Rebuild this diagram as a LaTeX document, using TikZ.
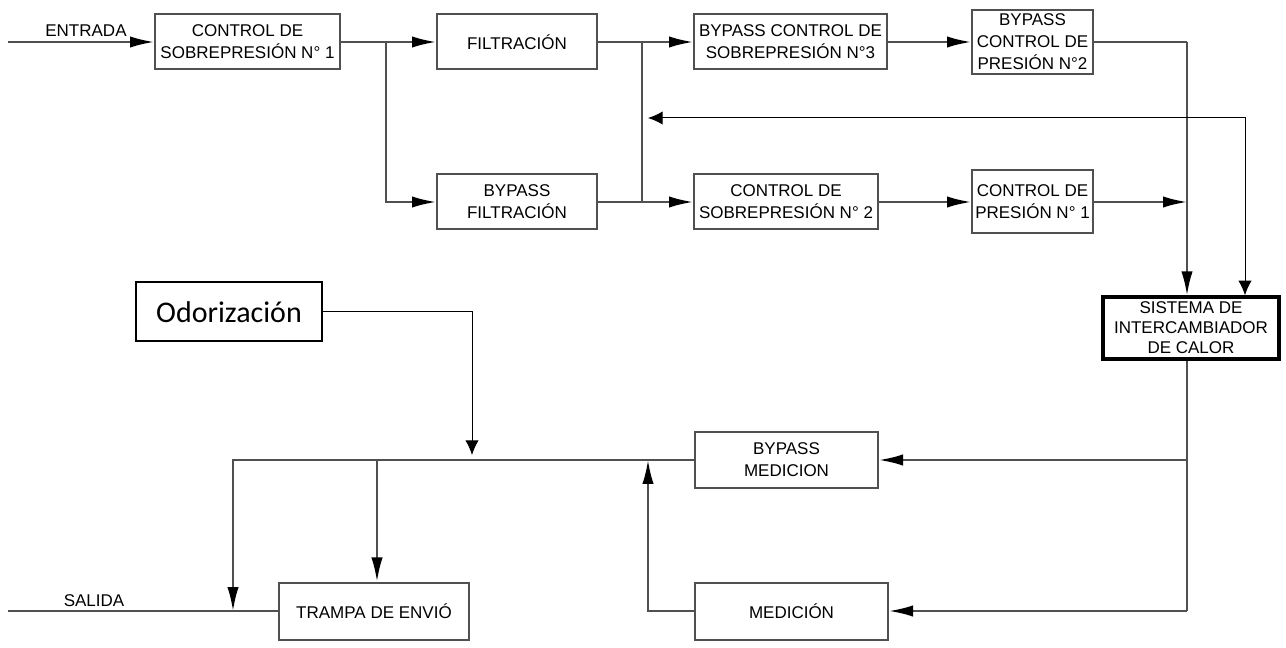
\documentclass[tikz,border=0pt]{standalone}
\usepackage{fontspec}
\setmainfont{Liberation Sans}
\newfontfamily\odorfont{Carlito}
\usetikzlibrary{arrows.meta}

\definecolor{pipegray}{RGB}{80,80,80}
\tikzset{every picture/.style={line width=0.75pt}}
\tikzset{
  block/.style={draw=pipegray, line width=1.5pt, fill=white, align=center, inner sep=0.75pt,
    font=\fontsize{12.75}{16.5}\selectfont},
  pipe/.style={draw=pipegray, line width=1.6pt},
  flow/.style={pipe, -{Latex[length=18pt,width=8.5pt,color=black]}},
  thinflow/.style={draw=black, line width=0.75pt, -{Latex[length=11pt,width=10pt]}},
  thinboth/.style={draw=black, line width=0.75pt, {Latex[length=11pt,width=10pt]}-{Latex[length=11pt,width=10pt]}},
  tag/.style={inner sep=0.75pt, font=\fontsize{12.75}{15}\selectfont}
}

\begin{document}
\begin{tikzpicture}[x=0.75pt,y=0.75pt,yscale=-1,xscale=1]
\useasboundingbox (0,0) rectangle (1286,648);

% Text Node
\node [block, minimum width=138.75pt, minimum height=41.25pt] (cs1) at (247.5,42) {CONTROL DE\\SOBREPRESIÓN N° 1};
% Text Node
\node [block, minimum width=120pt, minimum height=41.25pt] (filt) at (517,42) {FILTRACIÓN};
% Text Node
\node [block, minimum width=120pt, minimum height=41.25pt] (bpfilt) at (517,202) {BYPASS\\FILTRACIÓN};
% Text Node
\node [block, minimum width=144.75pt, minimum height=41.25pt] (bpcs3) at (790.5,42) {BYPASS CONTROL DE\\SOBREPRESIÓN N°3};
% Text Node
\node [block, minimum width=138pt, minimum height=41.25pt] (cs2) at (786,202) {CONTROL DE\\SOBREPRESIÓN N° 2};
% Text Node
\node [block, minimum width=90.75pt, minimum height=48pt] (bpcp2) at (1032.5,42) {BYPASS\\CONTROL DE\\PRESIÓN N°2};
% Text Node
\node [block, minimum width=90.75pt, minimum height=47.25pt] (cp1) at (1032.5,202) {CONTROL DE\\PRESIÓN N° 1};
% Text Node
\node [block, draw=black, line width=2.5pt, minimum width=132pt, minimum height=46.5pt,
  font=\fontsize{12.75}{15}\selectfont] (hx) at (1191,328) {SISTEMA DE\\INTERCAMBIADOR\\DE CALOR};
% Text Node
\node [block, minimum width=137.25pt, minimum height=42pt] (bpmed) at (786.5,460) {BYPASS\\MEDICION};
% Text Node
\node [block, minimum width=144.75pt, minimum height=42.75pt] (med) at (791.5,611) {MEDICIÓN};
% Text Node
\node [block, minimum width=142.5pt, minimum height=42.75pt] (trampa) at (374,611) {TRAMPA DE ENVIÓ};
% Text Node
\node [draw=black, line width=1.5pt, minimum width=139.5pt, minimum height=44.25pt, inner sep=0.75pt,
  font=\odorfont\fontsize{22.5}{26}\selectfont] (odor) at (229,312) {Odorización};

% Text Node
\node [tag] (entradaTxt) at (86,31) {ENTRADA};
% Text Node
\node [tag] (salidaTxt) at (94,601) {SALIDA};

\coordinate (entrada) at (8,42);
\coordinate (splitA) at (386,42);
\coordinate (joinB) at (642,42);
\coordinate (collect) at (1187,42);
\coordinate (retA) at (648,118);
\coordinate (retB) at (1245,118);
\coordinate (down) at (1187,611);
\coordinate (rise) at (648,611);
\coordinate (outA) at (233,460);
\coordinate (trapIn) at (377,460);
\coordinate (odorIn) at (472,455);
\coordinate (salida) at (8,611);

%Straight Lines
\draw [flow] (entrada) -- (cs1.west);
\draw [pipe] (cs1.east) -- (splitA);
\draw [flow] (splitA) -- (filt.west);
\draw [flow] (splitA) |- (bpfilt.west);
%Straight Lines
\draw [flow] (filt.east) -- (bpcs3.west);
\draw [flow] (bpfilt.east) -- (cs2.west);
\draw [pipe] (joinB) -- (joinB |- bpfilt.east);
%Straight Lines
\draw [flow] (bpcs3.east) -- (bpcp2.west);
\draw [flow] (cs2.east) -- (cp1.west);
\draw [pipe] (bpcp2.east) -- (collect);
\draw [flow] (collect) -- (collect |- hx.north);
\draw [flow] (cp1.east) -- (collect |- cp1.east);
%Straight Lines
\draw [thinboth] (retA) -- (retB) -- (retB |- hx.north);
%Straight Lines
\draw [pipe] (collect |- hx.south) -- (down);
\draw [flow] (down) -- (med.east);
\draw [flow] (collect |- bpmed.east) -- (bpmed.east);
\draw [flow] (med.west) -- (rise) -- (rise |- bpmed.west);
%Straight Lines
\draw [flow] (bpmed.west) -- (outA) -- (outA |- trampa.west);
\draw [flow] (trapIn) -- (trapIn |- trampa.north);
\draw [pipe] (trampa.west) -- (salida);
%Straight Lines
\draw [thinflow] (odor.east) -| (odorIn);

\end{tikzpicture}
\end{document}
